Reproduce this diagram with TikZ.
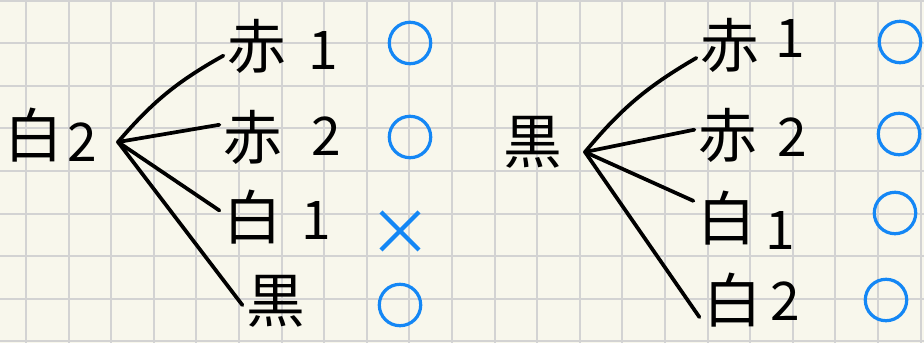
\documentclass[tikz,border=0pt]{standalone}
\usepackage{fontspec}
\usepackage{tikz}
\usetikzlibrary{positioning}
\newfontfamily\jpfont{Noto Sans CJK JP}
\newfontfamily\markfont[FakeBold=3]{Noto Sans CJK JP}
\definecolor{paper}{RGB}{248,247,236}
\definecolor{gridgray}{RGB}{211,211,211}
\definecolor{penblue}{RGB}{20,135,245}

\begin{document}
\begin{tikzpicture}[x=0.75pt, y=-0.75pt,
  kanji/.style={font=\jpfont\fontsize{44}{44}\selectfont, inner sep=3pt},
  digit/.style={font=\jpfont\fontsize{40}{40}\selectfont, inner sep=0pt},
  branch/.style={line width=2.8pt, line cap=round},
  okmark/.style={font=\markfont\fontsize{36}{36}\selectfont, text=penblue, inner sep=0pt},
  ngmark/.style={font=\jpfont\fontsize{48}{48}\selectfont, text=penblue, inner sep=0pt}]
  \useasboundingbox (0,0) rectangle (924,343);

  % Paper
  \fill[paper] (0,0) rectangle (924,343);
  \foreach \i in {0,...,21}
    \draw[gridgray, line width=1.5pt] ({26+42.6*\i},0) -- ({26+42.6*\i},343);
  \foreach \j in {0,...,8}
    \draw[gridgray, line width=1.5pt] (0,{0.5+42.6*\j}) -- (924,{0.5+42.6*\j});

  % Left tree
  \node[kanji] (lw) at (34,135) {白};
  \node[digit] (lw2) at (82,142) {2};
  \coordinate (lfork) at (118,142);

  \node[kanji] (la1) at (257,46) {赤};
  \node[digit] (la1n) at (323,50) {1};
  \node[kanji] (la2) at (253,137) {赤};
  \node[digit] (la2n) at (326,136) {2};
  \node[kanji] (lw1) at (253,217) {白};
  \node[digit] (lw1n) at (316,220) {1};
  \node[kanji] (lk) at (276,301) {黒};

  \draw[branch] (lfork) to[bend left=10] (la1.196);
  \draw[branch] (lfork) -- (la2.160);
  \draw[branch] (lfork) -- (lw1.169);
  \draw[branch] (lfork) -- (lk.187);

  \node[okmark] (lm1) at (410,43) {○};
  \node[okmark] (lm2) at (410,137) {○};
  \node[ngmark] (lm3) at (400,233) {×};
  \node[okmark] (lm4) at (400,305) {○};

  % Right tree
  \node[kanji] (rk) at (533,142) {黒};
  \coordinate (rfork) at (585,152);

  \node[kanji] (ra1) at (730,45) {赤};
  \node[digit] (ra1n) at (790,38) {1};
  \node[kanji] (ra2) at (728,135) {赤};
  \node[digit] (ra2n) at (792,137) {2};
  \node[kanji] (rw1) at (727,218) {白};
  \node[digit] (rw1n) at (780,230) {1};
  \node[kanji] (rw2) at (733,300) {白};
  \node[digit] (rw2n) at (785,301) {2};

  \draw[branch] (rfork) to[bend left=10] (ra1.201);
  \draw[branch] (rfork) -- (ra2.171);
  \draw[branch] (rfork) -- (rw1.153);
  \draw[branch] (rfork) -- (rw2.207);

  \node[okmark] (rm1) at (900,42) {○};
  \node[okmark] (rm2) at (899,134) {○};
  \node[okmark] (rm3) at (895,213) {○};
  \node[okmark] (rm4) at (886,300) {○};
\end{tikzpicture}
\end{document}
